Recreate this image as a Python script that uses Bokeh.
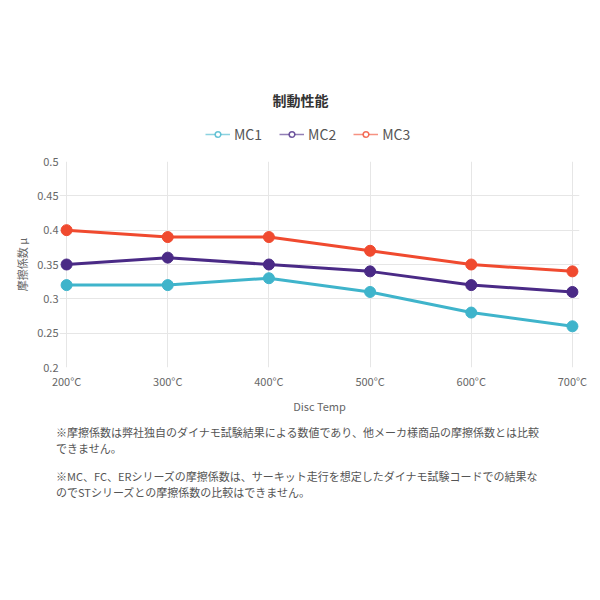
from bokeh.plotting import figure
from bokeh.models import Legend, LegendItem, Div, FixedTicker, Range1d, ColumnDataSource
from bokeh.layouts import column
from bokeh.embed import file_html
from bokeh.resources import INLINE

temps = [200, 300, 400, 500, 600, 700]
temp_labels = ["200°C", "300°C", "400°C", "500°C", "600°C", "700°C"]
mc1 = [0.32, 0.32, 0.33, 0.31, 0.28, 0.26]
mc2 = [0.35, 0.36, 0.35, 0.34, 0.32, 0.31]
mc3 = [0.40, 0.39, 0.39, 0.37, 0.35, 0.34]
series_names = ["MC1", "MC2", "MC3"]
series_colors = ["#3fb4cb", "#4a2a86", "#f04a2f"]
y_ticks = [0.2, 0.25, 0.3, 0.35, 0.4, 0.45, 0.5]
y_tick_labels = ["0.2", "0.25", "0.3", "0.35", "0.4", "0.45", "0.5"]
chart_title = "制動性能"
x_title = "Disc Temp"
y_title = "摩擦係数 μ"
notes_text = [
    "※摩擦係数は弊社独自のダイナモ試験結果による数値であり、他メーカ様商品の摩擦係数とは比較<br>できません。",
    "※MC、FC、ERシリーズの摩擦係数は、サーキット走行を想定したダイナモ試験コードでの結果な<br>のでSTシリーズとの摩擦係数の比較はできません。",
]

FONT = "Noto Sans CJK JP"
W = 592
X_PAD = 7  # small range padding so edge markers are not clipped

# ---- header: title + legend (its frame is aligned with the main chart's frame) ----
header = figure(width=W, height=150, output_backend="svg", toolbar_location=None,
                x_range=Range1d(0, 1), y_range=Range1d(0, 1),
                x_axis_type=None, y_axis_type=None, title=chart_title,
                min_border_left=0, min_border_right=0, min_border_top=114, min_border_bottom=0)
header.outline_line_color = None
header.xgrid.visible = False
header.ygrid.visible = False
header.border_fill_color = "white"
header.title.align = "left"
header.title.offset = 213
header.title.text_font = FONT
header.title.text_font_size = "14px"
header.title.text_font_style = "bold"
header.title.text_color = "#333333"

items = []
for name, col in zip(series_names, series_colors):
    nan_src = ColumnDataSource(dict(x=[float("nan")], y=[float("nan")]))
    lr = header.line("x", "y", source=nan_src, line_color=col, line_width=1.5, line_alpha=0.6)
    sr = header.scatter("x", "y", source=nan_src, size=6, fill_color="white", line_color=col,
                        line_alpha=0.8, line_width=1.5)
    items.append(LegendItem(label=name, renderers=[lr, sr]))

legend = Legend(items=items, orientation="horizontal", location=(146, 6),
                label_text_font=FONT, label_text_font_size="14px", label_text_color="#555555",
                border_line_color=None, background_fill_alpha=0,
                glyph_width=25, glyph_height=14, spacing=17, label_standoff=4, margin=0, padding=2)
header.add_layout(legend)

# ---- main chart ----
p = figure(width=W, height=266, output_backend="svg", toolbar_location=None,
           x_range=Range1d(temps[0] - X_PAD, temps[-1] + X_PAD),
           y_range=Range1d(y_ticks[0], y_ticks[-1]),
           min_border_left=59, min_border_right=13, min_border_top=11, min_border_bottom=47)
p.outline_line_color = None
p.background_fill_color = "white"
p.border_fill_color = "white"

for ax in (p.xaxis[0], p.yaxis[0]):
    ax.axis_line_color = None
    ax.major_label_text_font = FONT
    ax.major_label_text_font_size = "11px"
    ax.major_label_text_color = "#666666"
    ax.axis_label_text_font = FONT
    ax.axis_label_text_font_size = "11px"
    ax.axis_label_text_color = "#666666"
    ax.axis_label_text_font_style = "normal"
    ax.minor_tick_line_color = None
    ax.major_tick_line_color = None
    ax.major_tick_out = 0
    ax.major_tick_in = 0

p.xaxis.ticker = FixedTicker(ticks=temps)
p.xaxis.major_label_overrides = dict(zip(temps, temp_labels))
p.xaxis.major_label_standoff = 5
p.xaxis.axis_label = x_title
p.xaxis.axis_label_standoff = 6

p.yaxis.ticker = FixedTicker(ticks=y_ticks)
p.yaxis.major_label_overrides = dict(zip(y_ticks, y_tick_labels))
p.yaxis.major_label_standoff = 1
p.yaxis.axis_label = y_title
p.yaxis.axis_label_standoff = 4

p.xgrid.grid_line_color = "#e6e6e6"
p.ygrid.grid_line_color = "#e6e6e6"

for name, vals, col in zip(series_names, [mc1, mc2, mc3], series_colors):
    src = ColumnDataSource(dict(x=temps, y=vals))
    p.line("x", "y", source=src, line_color=col, line_width=3)
    p.scatter("x", "y", source=src, size=11, fill_color=col, line_color=col)

notes = Div(text="<div style='height:12px'></div>".join(notes_text),
            width=520, margin=(8, 0, 0, 56),
            styles={"font-family": FONT, "font-size": "11px", "line-height": "16px", "color": "#555555"})

layout = column(header, p, notes, spacing=0)
open("out.html", "w").write(file_html(layout, INLINE))
